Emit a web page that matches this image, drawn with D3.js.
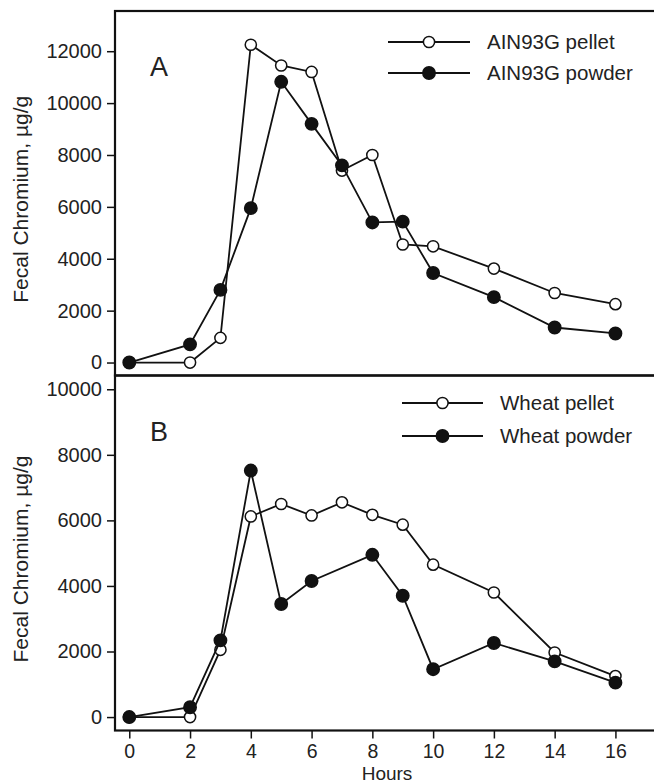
<!DOCTYPE html>
<html>
<head>
<meta charset="utf-8">
<script src="https://cdn.jsdelivr.net/npm/d3@7"></script>
<style>
  body { margin: 0; background: #fff; }
  svg { display: block; font-family: "Liberation Sans", Arial, sans-serif; }
</style>
</head>
<body>
<svg id="chart" width="654" height="784"></svg>
<script>
// hours sampled
const hours = [0, 2, 3, 4, 5, 6, 7, 8, 9, 10, 12, 14, 16];
const hoursWheatPowder = [0, 2, 3, 4, 5, 6, 8, 9, 10, 12, 14, 16];

// panel A values, ug/g
const ainPellet = [0, 0, 950, 12250, 11450, 11200, 7400, 8000, 4550, 4480, 3620, 2680, 2250];
const ainPowder = [0, 700, 2800, 5950, 10820, 9200, 7600, 5400, 5430, 3450, 2520, 1350, 1120];

// panel B values, ug/g
const wheatPellet = [0, 0, 2050, 6120, 6500, 6150, 6550, 6170, 5870, 4650, 3800, 1970, 1250];
const wheatPowder = [0, 300, 2340, 7520, 3450, 4150, 4950, 3700, 1460, 2260, 1700, 1050];

const xTicks = [0, 2, 4, 6, 8, 10, 12, 14, 16];
const yTicksA = [0, 2000, 4000, 6000, 8000, 10000, 12000];
const yTicksB = [0, 2000, 4000, 6000, 8000, 10000];

const ink = "#111";
let svg = d3.select("#chart");

let xScale = d3.scaleLinear()
  .domain([-0.47, 17.5])
  .range([115, 661]);

let panels = [
  {label: "A", top: 11, bottom: 375.5, domain: [-500, 13550], yTicks: yTicksA,
   series: [
     {name: "AIN93G pellet", x: hours, y: ainPellet, open: true},
     {name: "AIN93G powder", x: hours, y: ainPowder, open: false}
   ],
   legend: {x1: 388, x2: 470, tx: 487, y: 42, gap: 31}},
  {label: "B", top: 375.5, bottom: 730.5, domain: [-410, 10420], yTicks: yTicksB,
   series: [
     {name: "Wheat pellet", x: hours, y: wheatPellet, open: true},
     {name: "Wheat powder", x: hoursWheatPowder, y: wheatPowder, open: false}
   ],
   legend: {x1: 402, x2: 483, tx: 500, y: 403, gap: 33}}
];

function drawMarker(g, cx, cy, open) {
  g.append("circle")
    .attr("cx", cx)
    .attr("cy", cy)
    .attr("r", open ? 5.6 : 6.2)
    .attr("fill", open ? "#fff" : ink)
    .attr("stroke", ink)
    .attr("stroke-width", 1.5);
}

for (let p of panels) {
  let yScale = d3.scaleLinear()
    .domain(p.domain)
    .range([p.bottom, p.top]);

  let g = svg.append("g");

  // y axis ticks outside the frame
  let yAxis = d3.axisLeft(yScale).tickValues(p.yTicks).tickFormat(d3.format("d"))
    .tickSize(8).tickSizeOuter(0).tickPadding(5);
  let gy = g.append("g")
    .attr("transform", "translate(115,0)")
    .call(yAxis);
  gy.select(".domain").remove();
  gy.selectAll("line").attr("stroke", ink).attr("stroke-width", 1.5);
  gy.selectAll("text")
    .attr("fill", "#222")
    .attr("font-size", "20px")
    .attr("font-family", "Liberation Sans, Arial, sans-serif");

  // y label
  g.append("text")
    .attr("transform", `translate(28, ${(p.top + p.bottom) / 2 + 6}) rotate(-90)`)
    .attr("text-anchor", "middle")
    .attr("font-size", "21px")
    .attr("fill", "#222")
    .text("Fecal Chromium, µg/g");

  // panel letter
  g.append("text")
    .attr("x", 150)
    .attr("y", p.top + 65)
    .attr("font-size", "27px")
    .attr("fill", "#222")
    .text(p.label);

  // series, pellet first so powder sits on top
  for (let s of p.series) {
    let pts = s.x.map((h, i) => [xScale(h), yScale(s.y[i])]);
    g.append("path")
      .attr("d", d3.line()(pts))
      .attr("fill", "none")
      .attr("stroke", ink)
      .attr("stroke-width", 1.8);
    for (let pt of pts) {
      drawMarker(g, pt[0], pt[1], s.open);
    }
  }

  // legend
  p.series.forEach((s, i) => {
    let ly = p.legend.y + i * p.legend.gap;
    g.append("line")
      .attr("x1", p.legend.x1)
      .attr("x2", p.legend.x2)
      .attr("y1", ly)
      .attr("y2", ly)
      .attr("stroke", ink)
      .attr("stroke-width", 1.8);
    drawMarker(g, (p.legend.x1 + p.legend.x2) / 2, ly, s.open);
    g.append("text")
      .attr("x", p.legend.tx)
      .attr("y", ly + 7)
      .attr("font-size", "20.5px")
      .attr("fill", "#222")
      .text(s.name);
  });

  // frame (right edge runs off the picture)
  g.append("rect")
    .attr("x", 115)
    .attr("y", p.top)
    .attr("width", 560)
    .attr("height", p.bottom - p.top)
    .attr("fill", "none")
    .attr("stroke", ink)
    .attr("stroke-width", 2.2);
}

// shared x axis under panel B
let xAxis = d3.axisBottom(xScale).tickValues(xTicks).tickSize(8).tickSizeOuter(0).tickPadding(6);
let gx = svg.append("g")
  .attr("transform", "translate(0,730.5)")
  .call(xAxis);
gx.select(".domain").remove();
gx.selectAll("line").attr("stroke", ink).attr("stroke-width", 1.5);
gx.selectAll("text")
  .attr("fill", "#222")
  .attr("font-size", "19.5px")
  .attr("font-family", "Liberation Sans, Arial, sans-serif");

svg.append("text")
  .attr("x", 387)
  .attr("y", 780)
  .attr("text-anchor", "middle")
  .attr("font-size", "19px")
  .attr("fill", "#222")
  .text("Hours");
</script>
</body>
</html>
